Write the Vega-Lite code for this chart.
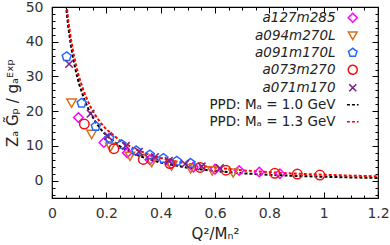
{
  "$schema": "https://vega.github.io/schema/vega-lite/v6.json",
  "width": 326,
  "height": 191,
  "autosize": "none",
  "padding": {"left": 52, "top": 7, "right": 12, "bottom": 47},
  "background": "white",
  "config": {
    "font": "DejaVu Sans",
    "view": {"stroke": "#000", "strokeWidth": 1.2},
    "axis": {"grid": false, "domain": false, "tickColor": "#000", "tickWidth": 1, "labelFontSize": 14, "labelColor": "#333", "labelFont": "DejaVu Sans", "titleFontSize": 15, "titleFontWeight": "normal", "titleColor": "#222", "titleFont": "DejaVu Sans"},
    "legend": {"orient": "none", "legendX": 294, "legendY": 4, "labelAlign": "right", "labelOffset": -24, "labelFontSize": 13.5, "labelColor": "#222", "labelFont": "DejaVu Sans", "symbolSize": 80, "symbolStrokeWidth": 1.5, "rowPadding": 2, "padding": 0, "labelLimit": 300}
  },
  "datasets": {
    "pts": [
      {"s": "a127m285", "x": 0.097, "y": 18.2}, {"s": "a127m285", "x": 0.191, "y": 11.0}, {"s": "a127m285", "x": 0.277, "y": 8.0}, {"s": "a127m285", "x": 0.36, "y": 6.0}, {"s": "a127m285", "x": 0.44, "y": 4.8}, {"s": "a127m285", "x": 0.52, "y": 3.9}, {"s": "a127m285", "x": 0.60, "y": 3.3}, {"s": "a127m285", "x": 0.689, "y": 2.9}, {"s": "a127m285", "x": 0.763, "y": 2.5}, {"s": "a127m285", "x": 0.839, "y": 2.0},
      {"s": "a094m270L", "x": 0.072, "y": 22.3}, {"s": "a094m270L", "x": 0.146, "y": 13.3}, {"s": "a094m270L", "x": 0.215, "y": 9.6}, {"s": "a094m270L", "x": 0.287, "y": 7.0}, {"s": "a094m270L", "x": 0.367, "y": 5.2}, {"s": "a094m270L", "x": 0.44, "y": 4.2}, {"s": "a094m270L", "x": 0.51, "y": 3.4}, {"s": "a094m270L", "x": 0.59, "y": 2.8}, {"s": "a094m270L", "x": 0.667, "y": 2.2},
      {"s": "a091m170L", "x": 0.054, "y": 35.7}, {"s": "a091m170L", "x": 0.109, "y": 22.3}, {"s": "a091m170L", "x": 0.161, "y": 15.6}, {"s": "a091m170L", "x": 0.211, "y": 12.2}, {"s": "a091m170L", "x": 0.256, "y": 10.4}, {"s": "a091m170L", "x": 0.31, "y": 8.6}, {"s": "a091m170L", "x": 0.36, "y": 7.4}, {"s": "a091m170L", "x": 0.41, "y": 6.4}, {"s": "a091m170L", "x": 0.459, "y": 5.6}, {"s": "a091m170L", "x": 0.51, "y": 5.0},
      {"s": "a073m270", "x": 0.119, "y": 16.3}, {"s": "a073m270", "x": 0.228, "y": 9.2}, {"s": "a073m270", "x": 0.336, "y": 6.1}, {"s": "a073m270", "x": 0.434, "y": 4.9}, {"s": "a073m270", "x": 0.545, "y": 3.8}, {"s": "a073m270", "x": 0.64, "y": 3.0}, {"s": "a073m270", "x": 0.82, "y": 2.1}, {"s": "a073m270", "x": 0.903, "y": 1.9}, {"s": "a073m270", "x": 0.986, "y": 1.6},
      {"s": "a071m170", "x": 0.063, "y": 33.6}, {"s": "a071m170", "x": 0.142, "y": 19.3}, {"s": "a071m170", "x": 0.206, "y": 12.8}, {"s": "a071m170", "x": 0.272, "y": 10.0}, {"s": "a071m170", "x": 0.32, "y": 8.3}, {"s": "a071m170", "x": 0.379, "y": 6.8}, {"s": "a071m170", "x": 0.43, "y": 5.7}, {"s": "a071m170", "x": 0.49, "y": 4.8}, {"s": "a071m170", "x": 0.551, "y": 4.1}, {"s": "a071m170", "x": 0.618, "y": 3.6}
    ],
    "curves": [
      {"s": "PPD: Mₐ = 1.0 GeV", "x": 0.04, "y": 60.6}, {"s": "PPD: Mₐ = 1.0 GeV", "x": 0.05, "y": 51.25}, {"s": "PPD: Mₐ = 1.0 GeV", "x": 0.06, "y": 44.22}, {"s": "PPD: Mₐ = 1.0 GeV", "x": 0.07, "y": 38.74}, {"s": "PPD: Mₐ = 1.0 GeV", "x": 0.08, "y": 34.35}, {"s": "PPD: Mₐ = 1.0 GeV", "x": 0.09, "y": 30.77}, {"s": "PPD: Mₐ = 1.0 GeV", "x": 0.10, "y": 27.78}, {"s": "PPD: Mₐ = 1.0 GeV", "x": 0.12, "y": 23.10}, {"s": "PPD: Mₐ = 1.0 GeV", "x": 0.14, "y": 19.61}, {"s": "PPD: Mₐ = 1.0 GeV", "x": 0.16, "y": 16.92}, {"s": "PPD: Mₐ = 1.0 GeV", "x": 0.18, "y": 14.78}, {"s": "PPD: Mₐ = 1.0 GeV", "x": 0.20, "y": 13.04}, {"s": "PPD: Mₐ = 1.0 GeV", "x": 0.25, "y": 9.89}, {"s": "PPD: Mₐ = 1.0 GeV", "x": 0.30, "y": 7.78}, {"s": "PPD: Mₐ = 1.0 GeV", "x": 0.35, "y": 6.29}, {"s": "PPD: Mₐ = 1.0 GeV", "x": 0.40, "y": 5.19}, {"s": "PPD: Mₐ = 1.0 GeV", "x": 0.50, "y": 3.69}, {"s": "PPD: Mₐ = 1.0 GeV", "x": 0.60, "y": 2.75}, {"s": "PPD: Mₐ = 1.0 GeV", "x": 0.70, "y": 2.12}, {"s": "PPD: Mₐ = 1.0 GeV", "x": 0.80, "y": 1.67}, {"s": "PPD: Mₐ = 1.0 GeV", "x": 0.90, "y": 1.35}, {"s": "PPD: Mₐ = 1.0 GeV", "x": 1.00, "y": 1.11}, {"s": "PPD: Mₐ = 1.0 GeV", "x": 1.10, "y": 0.92}, {"s": "PPD: Mₐ = 1.0 GeV", "x": 1.20, "y": 0.77},
      {"s": "PPD: Mₐ = 1.3 GeV", "x": 0.04, "y": 62.3}, {"s": "PPD: Mₐ = 1.3 GeV", "x": 0.05, "y": 53.06}, {"s": "PPD: Mₐ = 1.3 GeV", "x": 0.06, "y": 46.09}, {"s": "PPD: Mₐ = 1.3 GeV", "x": 0.07, "y": 40.65}, {"s": "PPD: Mₐ = 1.3 GeV", "x": 0.08, "y": 36.28}, {"s": "PPD: Mₐ = 1.3 GeV", "x": 0.09, "y": 32.70}, {"s": "PPD: Mₐ = 1.3 GeV", "x": 0.10, "y": 29.71}, {"s": "PPD: Mₐ = 1.3 GeV", "x": 0.12, "y": 25.02}, {"s": "PPD: Mₐ = 1.3 GeV", "x": 0.14, "y": 21.50}, {"s": "PPD: Mₐ = 1.3 GeV", "x": 0.16, "y": 18.77}, {"s": "PPD: Mₐ = 1.3 GeV", "x": 0.18, "y": 16.58}, {"s": "PPD: Mₐ = 1.3 GeV", "x": 0.20, "y": 14.80}, {"s": "PPD: Mₐ = 1.3 GeV", "x": 0.25, "y": 11.53}, {"s": "PPD: Mₐ = 1.3 GeV", "x": 0.30, "y": 9.30}, {"s": "PPD: Mₐ = 1.3 GeV", "x": 0.35, "y": 7.70}, {"s": "PPD: Mₐ = 1.3 GeV", "x": 0.40, "y": 6.49}, {"s": "PPD: Mₐ = 1.3 GeV", "x": 0.50, "y": 4.82}, {"s": "PPD: Mₐ = 1.3 GeV", "x": 0.60, "y": 3.73}, {"s": "PPD: Mₐ = 1.3 GeV", "x": 0.70, "y": 2.97}, {"s": "PPD: Mₐ = 1.3 GeV", "x": 0.80, "y": 2.42}, {"s": "PPD: Mₐ = 1.3 GeV", "x": 0.90, "y": 2.01}, {"s": "PPD: Mₐ = 1.3 GeV", "x": 1.00, "y": 1.69}, {"s": "PPD: Mₐ = 1.3 GeV", "x": 1.10, "y": 1.44}, {"s": "PPD: Mₐ = 1.3 GeV", "x": 1.20, "y": 1.24}
    ]
  },
  "resolve": {"axis": {"x": "independent", "y": "independent"}},
  "layer": [
    {
      "data": {"name": "curves"},
      "transform": [{"filter": "datum.s === 'PPD: Mₐ = 1.0 GeV'"}],
      "mark": {"type": "line", "clip": true, "strokeWidth": 2},
      "encoding": {
        "x": {"field": "x", "type": "quantitative", "scale": {"domain": [0, 1.2], "nice": false, "zero": false},
              "axis": {"orient": "bottom", "values": [0, 0.2, 0.4, 0.6, 0.8, 1, 1.2], "format": "~g", "tickSize": -6, "labelPadding": 14, "title": "Q²/Mₙ²", "titlePadding": 6, "labelFlush": false}},
        "y": {"field": "y", "type": "quantitative", "scale": {"domain": [-5, 50], "nice": false, "zero": false},
              "axis": {"orient": "left", "values": [0, 10, 20, 30, 40, 50], "tickSize": -6, "labelPadding": 15, "title": "Zₐ G̃ₚ / gₐᴱˣᵖ", "titlePadding": 5}},
        "color": {"field": "s", "type": "nominal", "scale": {"domain": ["a127m285", "a094m270L", "a091m170L", "a073m270", "a071m170", "PPD: Mₐ = 1.0 GeV", "PPD: Mₐ = 1.3 GeV"], "range": ["#ff00ff", "#d8701e", "#2468ff", "#f01010", "#7a1f8c", "#000000", "#ff0000"]},
                  "legend": {"title": null, "encode": {"labels": {"update": {"fontStyle": {"signal": "indexof(datum.label, 'PPD') === 0 ? 'normal' : 'italic'"}}}}}},
        "strokeDash": {"field": "s", "type": "nominal", "scale": {"domain": ["a127m285", "a094m270L", "a091m170L", "a073m270", "a071m170", "PPD: Mₐ = 1.0 GeV", "PPD: Mₐ = 1.3 GeV"], "range": [[1, 0], [1, 0], [1, 0], [1, 0], [1, 0], [3, 2], [3, 2]]}, "legend": {"title": null}}
      }
    },
    {
      "data": {"name": "curves"},
      "transform": [{"filter": "datum.s === 'PPD: Mₐ = 1.3 GeV'"}],
      "mark": {"type": "line", "clip": true, "strokeWidth": 2},
      "encoding": {
        "x": {"field": "x", "type": "quantitative", "axis": {"orient": "top", "values": [0, 0.2, 0.4, 0.6, 0.8, 1, 1.2], "tickSize": -6, "labels": false, "title": null}},
        "y": {"field": "y", "type": "quantitative", "axis": {"orient": "right", "values": [0, 10, 20, 30, 40, 50], "tickSize": -6, "labels": false, "title": null}},
        "color": {"field": "s", "type": "nominal", "legend": {"title": null}},
        "strokeDash": {"field": "s", "type": "nominal", "legend": {"title": null}}
      }
    },
    {
      "data": {"name": "pts"},
      "mark": {"type": "point", "filled": false, "size": 90, "strokeWidth": 1.5, "opacity": 1},
      "encoding": {
        "x": {"field": "x", "type": "quantitative", "axis": {"orient": "bottom", "values": [0.05, 0.1, 0.15, 0.25, 0.3, 0.35, 0.45, 0.5, 0.55, 0.65, 0.7, 0.75, 0.85, 0.9, 0.95, 1.05, 1.1, 1.15], "tickSize": -3, "labels": false, "title": null}},
        "y": {"field": "y", "type": "quantitative", "axis": {"orient": "left", "values": [-4, -2, 2, 4, 6, 8, 12, 14, 16, 18, 22, 24, 26, 28, 32, 34, 36, 38, 42, 44, 46, 48], "tickSize": -3, "labels": false, "title": null}},
        "color": {"field": "s", "type": "nominal", "legend": {"title": null}},
        "shape": {"field": "s", "type": "nominal", "scale": {"domain": ["a127m285", "a094m270L", "a091m170L", "a073m270", "a071m170", "PPD: Mₐ = 1.0 GeV", "PPD: Mₐ = 1.3 GeV"], "range": ["diamond", "triangle-down", "M0,-1L0.951,-0.309L0.588,0.809L-0.588,0.809L-0.951,-0.309Z", "circle", "M-0.8,-0.8L0.8,0.8M-0.8,0.8L0.8,-0.8", "M-1.3,0H1.3", "M-1.3,0H1.3"]}, "legend": {"title": null}}
      }
    },
    {
      "mark": {"type": "text", "text": "{4ᴺπ, 2ˢⁱᵐ}", "align": "left", "baseline": "alphabetic", "fontSize": 14, "color": "#222", "font": "DejaVu Sans"},
      "encoding": {
        "x": {"datum": 0.012, "type": "quantitative", "axis": {"orient": "top", "values": [0.05, 0.1, 0.15, 0.25, 0.3, 0.35, 0.45, 0.5, 0.55, 0.65, 0.7, 0.75, 0.85, 0.9, 0.95, 1.05, 1.1, 1.15], "tickSize": -3, "labels": false, "title": null}},
        "y": {"datum": -3.6, "type": "quantitative", "axis": {"orient": "right", "values": [-4, -2, 2, 4, 6, 8, 12, 14, 16, 18, 22, 24, 26, 28, 32, 34, 36, 38, 42, 44, 46, 48], "tickSize": -3, "labels": false, "title": null}}
      }
    }
  ]
}
